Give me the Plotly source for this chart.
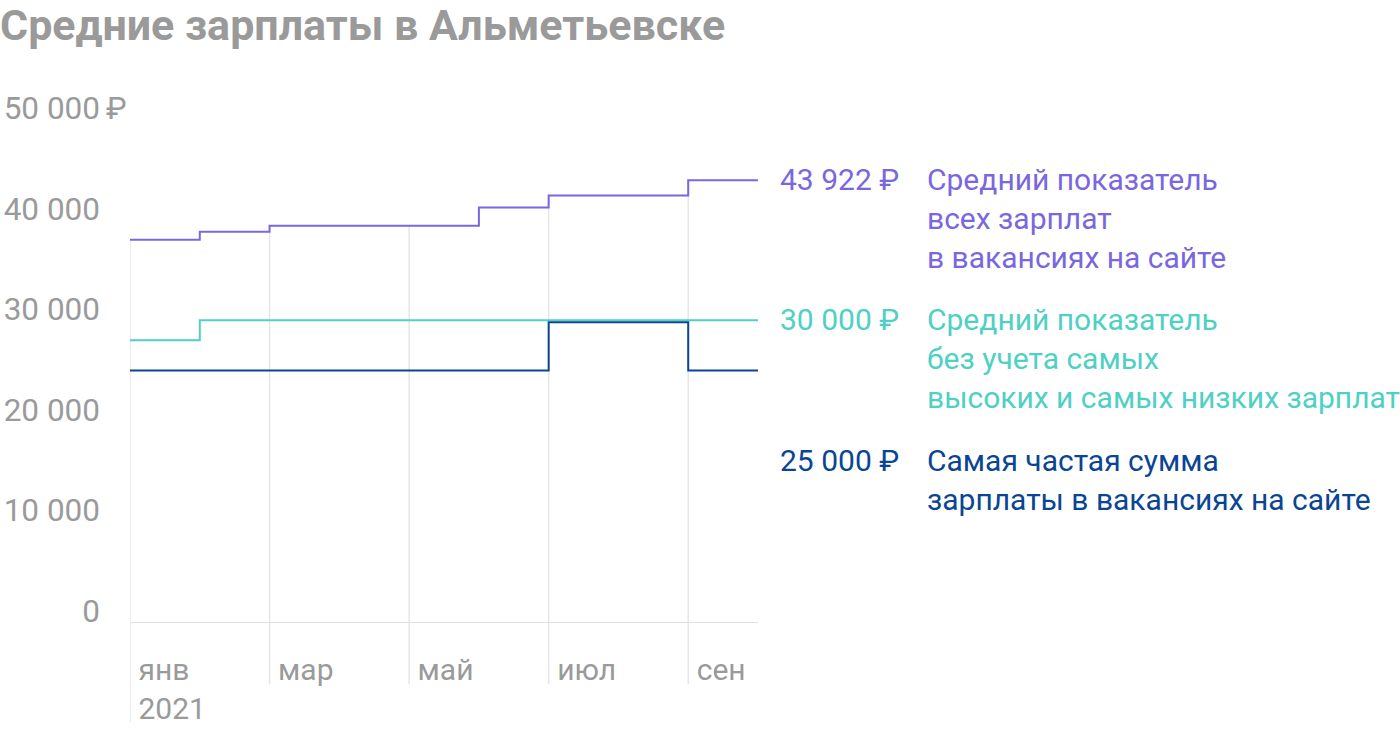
import plotly.graph_objects as go

months = ["янв", "фев", "мар", "апр", "май", "июн", "июл", "авг", "сен"]
avg_all = [38000, 38800, 39400, 39400, 39400, 41200, 42400, 42400, 43922]
avg_trim = [28000, 30000, 30000, 30000, 30000, 30000, 30000, 30000, 30000]
mode_val = [25000, 25000, 25000, 25000, 25000, 25000, 29800, 29800, 25000]

tick_months = [0, 2, 4, 6, 8]
tick_text = ["янв<br>2021", "мар", "май", "июл", "сен"]
y_ticks = [0, 10000, 20000, 30000, 40000, 50000]
y_text = ["0", "10 000", "20 000", "30 000", "40 000", "50 000"]

label_all = ["43 922 ₽", "Средний показатель<br>всех зарплат<br>в вакансиях на сайте"]
label_trim = ["30 000 ₽", "Средний показатель<br>без учета самых<br>высоких и самых низких зарплат"]
label_mode = ["25 000 ₽", "Самая частая сумма<br>зарплаты в вакансиях на сайте"]

PURPLE = "#7a67e0"
TEAL = "#4fd0c4"
NAVY = "#0a4594"
GRAY = "#9a9a9a"
GRID = "#e6e6e6"
FONT = "Roboto"

xs = list(range(len(months) + 1))

fig = go.Figure()
for vals, col in [(avg_trim, TEAL), (mode_val, NAVY), (avg_all, PURPLE)]:
    fig.add_trace(go.Scatter(
        x=xs, y=vals + [vals[-1]], mode="lines",
        line=dict(color=col, width=2, shape="hv"),
        hoverinfo="skip", showlegend=False,
    ))

shapes = []
for i, m in enumerate(tick_months):
    shapes.append(dict(type="line", xref="x", yref="y", x0=m, x1=m, y0=0, y1=avg_all[m],
                       line=dict(color=GRID, width=1.5), layer="below"))
    shapes.append(dict(type="line", xref="x", yref="paper", x0=m, x1=m, y0=0,
                       y1=-0.2 if i == 0 else -0.124,
                       line=dict(color=GRID, width=1.5), layer="below"))

L = 130
W = 628
def px(p):
    return (p - L) / W

annotations = []
# ruble sign on top tick
annotations.append(dict(xref="paper", yref="y", x=px(104), y=y_ticks[-1], text="₽",
                        xanchor="left", yanchor="middle", yshift=11, showarrow=False,
                        font=dict(family=FONT, size=31, color=GRAY)))

def add_label(lbl, col, yref, y):
    annotations.append(dict(xref="paper", yref=yref, x=px(778), y=y, text=lbl[0],
                            xanchor="left", yanchor="top", yshift=20, showarrow=False,
                            font=dict(family=FONT, size=30, color=col)))
    annotations.append(dict(xref="paper", yref=yref, x=px(925), y=y, text=lbl[1],
                            xanchor="left", yanchor="top", yshift=20, showarrow=False,
                            align="left", font=dict(family=FONT, size=30, color=col)))

add_label(label_all, PURPLE, "y", avg_all[-1])
add_label(label_trim, TEAL, "y", avg_trim[-1])
add_label(label_mode, NAVY, "paper", (621.5 - 460) / 503)

fig.update_layout(
    width=1400, height=732,
    margin=dict(l=L, r=1400 - L - W, t=119, b=110, autoexpand=False),
    paper_bgcolor="white", plot_bgcolor="white",
    title=dict(text="Средние зарплаты в Альметьевске", x=0, xref="container", xanchor="left",
               y=0.986, yref="container", yanchor="top", automargin=False,
               font=dict(family=FONT, size=43, color=GRAY, weight="bold")),
    xaxis=dict(range=[0, 9], tickvals=tick_months, ticktext=tick_text, showgrid=False,
               zeroline=False, showline=True, linecolor="#e0e0e0", linewidth=1,
               ticks="", ticklabelposition="outside right", ticklabelstandoff=21,
               ticklabelshift=8, automargin=False,
               tickfont=dict(family=FONT, size=30, color=GRAY), fixedrange=True),
    yaxis=dict(range=[0, 50000], tickvals=y_ticks, ticktext=y_text, showgrid=False,
               zeroline=False, showline=False, ticks="", ticklabelstandoff=29,
               ticklabelshift=-11, automargin=False,
               tickfont=dict(family=FONT, size=31.5, color=GRAY), fixedrange=True),
    shapes=shapes, annotations=annotations,
)

fig.write_html("out.html")
